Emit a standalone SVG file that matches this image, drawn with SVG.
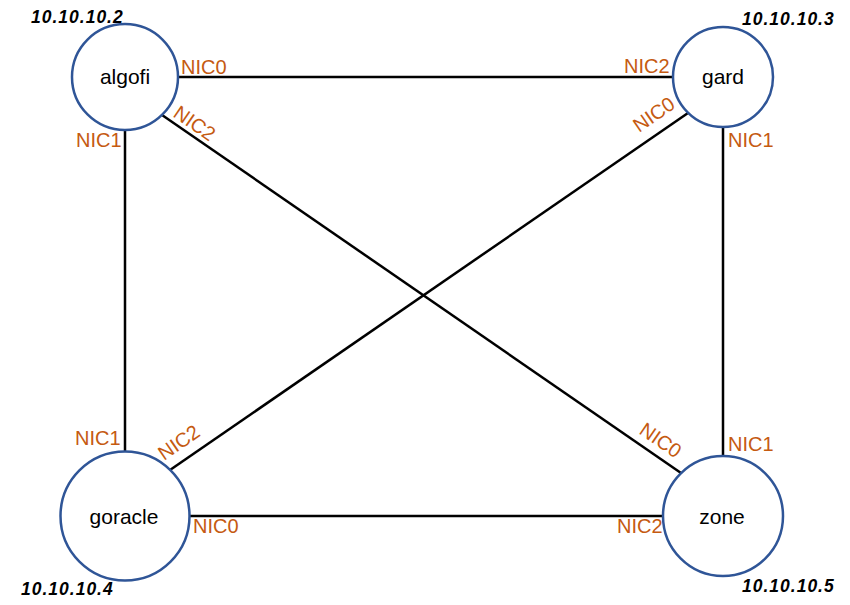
<svg xmlns="http://www.w3.org/2000/svg" width="850" height="605" viewBox="0 0 850 605">
<style>
.node{fill:#fff;stroke:#2F5597;stroke-width:2.5}
.name{font-family:"Liberation Sans",Arial,sans-serif;font-size:21px;fill:#000;text-anchor:middle}
.ip{font-family:"Liberation Sans",Arial,sans-serif;font-size:17.5px;font-weight:bold;font-style:italic;fill:#000;letter-spacing:1px}
.nic{font-family:"Liberation Sans",Arial,sans-serif;font-size:20px;fill:#C55A11}
.link{stroke:#000;stroke-width:2.5;fill:none}
</style>
<rect width="850" height="605" fill="#fff"/>
<g id="connectors">
<line class="link" x1="178" y1="77" x2="673" y2="77"/>
<line class="link" x1="125" y1="130" x2="125" y2="452"/>
<line class="link" x1="723" y1="127" x2="723" y2="456"/>
<line class="link" x1="190" y1="516" x2="663" y2="516"/>
<line class="link" x1="162" y1="115" x2="681" y2="473"/>
<line class="link" x1="688" y1="113" x2="170" y2="470"/>
</g>
<g id="algofi">
<circle class="node" cx="125" cy="77" r="53"/>
<text class="name" x="125" y="84">algofi</text>
<text class="ip" x="31" y="23">10.10.10.2</text>
<text class="nic" x="181" y="74">NIC0</text>
<text class="nic" x="76" y="147">NIC1</text>
<text class="nic" x="172" y="116" transform="rotate(34.6 172 116)">NIC2</text>
</g>
<g id="gard">
<circle class="node" cx="723" cy="77" r="50"/>
<text class="name" x="723" y="84">gard</text>
<text class="ip" x="742" y="25">10.10.10.3</text>
<text class="nic" x="624" y="73">NIC2</text>
<text class="nic" x="639" y="133" transform="rotate(-34.6 639 133)">NIC0</text>
<text class="nic" x="728" y="147">NIC1</text>
</g>
<g id="goracle">
<circle class="node" cx="125" cy="516" r="64.5"/>
<text class="name" x="124" y="524">goracle</text>
<text class="ip" x="21" y="595">10.10.10.4</text>
<text class="nic" x="75" y="445">NIC1</text>
<text class="nic" x="164" y="461" transform="rotate(-34.6 164 461)">NIC2</text>
<text class="nic" x="193" y="533">NIC0</text>
</g>
<g id="zone">
<circle class="node" cx="723" cy="516" r="60"/>
<text class="name" x="722" y="524">zone</text>
<text class="ip" x="742" y="592">10.10.10.5</text>
<text class="nic" x="638" y="433" transform="rotate(34.6 638 433)">NIC0</text>
<text class="nic" x="728" y="451">NIC1</text>
<text class="nic" x="617" y="533">NIC2</text>
</g>
</svg>
